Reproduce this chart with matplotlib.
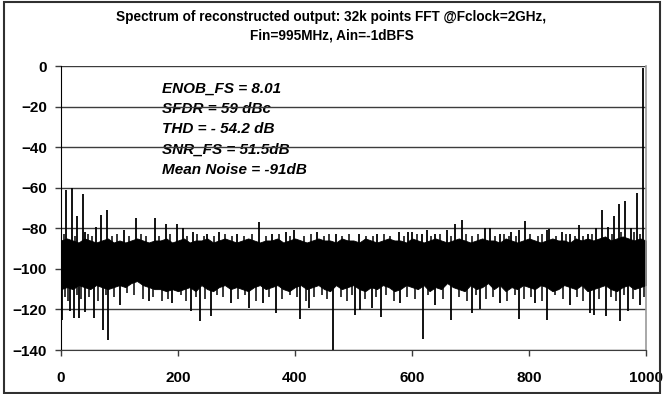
import numpy as np
import matplotlib
matplotlib.use("Agg")
import matplotlib.pyplot as plt
from matplotlib.patches import Rectangle

plt.rcParams["font.family"] = ["Liberation Sans", "DejaVu Sans"]
plt.rcParams["font.weight"] = "bold"

env_freq = list(range(0, 1001, 10))
env_top = [-86, -85, -86, -87, -85, -86, -87, -86, -85, -87,
           -86, -87, -86, -85, -86, -87, -86, -86, -85, -87,
           -86, -85, -87, -86, -86, -85, -87, -86, -85, -86,
           -87, -86, -85, -86, -87, -86, -86, -85, -87, -86,
           -85, -86, -87, -86, -85, -86, -86, -87, -85, -86,
           -86, -87, -85, -86, -87, -86, -85, -86, -86, -87,
           -85, -86, -87, -86, -85, -86, -87, -86, -85, -86,
           -87, -86, -85, -86, -86, -87, -85, -86, -87, -86,
           -85, -86, -87, -86, -85, -86, -86, -87, -85, -86,
           -85, -86, -85, -84, -86, -85, -84, -85, -86, -85, -86]
env_bot = [-110, -109, -110, -108, -109, -110, -108, -109, -110, -109,
           -108, -109, -107, -106, -108, -109, -110, -110, -111, -110,
           -111, -110, -109, -111, -108, -110, -111, -109, -108, -110,
           -109, -110, -111, -109, -108, -110, -109, -108, -110, -111,
           -109, -108, -110, -109, -108, -110, -111, -108, -110, -109,
           -108, -110, -111, -109, -110, -108, -109, -111, -110, -108,
           -109, -110, -108, -111, -109, -110, -107, -109, -110, -111,
           -108, -110, -109, -107, -110, -108, -111, -109, -110, -108,
           -109, -110, -108, -109, -111, -110, -108, -109, -110, -108,
           -111, -110, -109, -108, -110, -111, -109, -108, -110, -109, -108]

# spurs and the fundamental rising above the floor
spur_freq = [9, 18, 28, 38, 41, 59, 69, 79, 108, 129, 160, 179, 199, 208,
             225, 250, 270, 300, 339, 360, 385, 399, 438, 470, 510, 540,
             577, 593, 600, 617, 625, 640, 659, 674, 685, 725, 733, 750,
             770, 783, 794, 830, 835, 857, 870, 885, 900, 915, 924, 935,
             945, 954, 964, 974, 984, 995]
spur_level = [-61, -60, -74, -63, -82, -79.5, -73.5, -71, -81, -75, -75,
              -78, -78, -80, -82, -83, -82, -83, -77, -83, -82, -81, -82,
              -83, -83, -83, -82, -82, -82, -83, -81, -83, -81, -78, -76,
              -80, -80, -83, -82, -81, -76.5, -81, -80.5, -82, -83, -78.5,
              -83, -80, -71, -79.5, -74, -68, -66.5, -80, -62.5, -1]

# smaller bumps along the top of the floor
bump_freq = [5, 24, 47, 53, 88, 95, 117, 136, 145, 168, 187, 215, 233, 244,
             262, 281, 293, 312, 326, 351, 372, 392, 415, 427, 449, 458,
             481, 493, 521, 533, 552, 563, 586, 609, 632, 648, 667, 692,
             703, 712, 742, 758, 766, 778, 802, 815, 822, 846, 863, 878,
             893, 907, 942, 958, 979, 989]
bump_level = [-83, -84, -83, -84, -84, -83, -84, -83, -84, -84, -83, -84,
              -83, -84, -84, -83, -84, -84, -83, -84, -83, -84, -84, -83,
              -84, -83, -84, -83, -84, -84, -83, -84, -84, -83, -84, -83,
              -84, -83, -84, -83, -84, -83, -84, -84, -83, -84, -83, -84,
              -83, -84, -84, -83, -83, -82, -82, -83]

# deep dips below the floor
dip_freq = [2, 16, 22, 31, 41, 57, 72, 81, 100, 150, 190, 222, 238, 256,
            290, 322, 345, 367, 409, 424, 465, 502, 511, 531, 547, 580,
            619, 640, 666, 702, 717, 750, 783, 810, 831, 870, 904, 911,
            932, 956, 969, 990]
dip_level = [-125, -121, -124, -124, -121.5, -124, -130, -135, -118, -116,
             -117, -121, -125.5, -123, -117, -119.5, -117, -122, -124.5,
             -119.5, -140, -122.5, -120.5, -119.5, -123.5, -117, -134.5,
             -118, -125, -122, -120, -117, -124.5, -117, -125, -118, -122,
             -122.5, -123, -125.5, -121, -118]

# shallower dips that make the ragged lower edge
sag_freq = [7, 12, 27, 35, 48, 64, 77, 90, 112, 125, 140, 158, 172, 183,
            205, 214, 230, 247, 266, 277, 302, 315, 333, 356, 378, 392,
            403, 418, 433, 446, 455, 478, 489, 497, 520, 538, 556, 569,
            592, 605, 628, 653, 680, 694, 710, 727, 738, 763, 776, 792,
            803, 823, 845, 858, 882, 893, 920, 941, 948, 963, 978, 996]
sag_level = [-114, -116, -113, -115, -114, -116, -113, -114, -112, -113,
             -115, -114, -116, -115, -113, -116, -114, -115, -113, -114,
             -115, -113, -116, -114, -115, -113, -114, -116, -114, -113,
             -115, -114, -116, -113, -115, -114, -113, -116, -114, -115,
             -113, -115, -114, -116, -113, -115, -114, -116, -113, -115,
             -114, -116, -113, -115, -114, -116, -115, -114, -116, -113,
             -115, -114]

stats_text = ["ENOB_FS = 8.01", "SFDR = 59 dBc", "THD = - 54.2 dB",
              "SNR_FS = 51.5dB", "Mean Noise = -91dB"]
stats_y = [-11, -21, -31, -41.5, -51.5]

fig = plt.figure(figsize=(6.63, 3.94), dpi=100)
ax = fig.add_axes([61 / 663, 44 / 394, 585 / 663, 284 / 394])

# horizontal gridlines
for y in range(-140, 1, 20):
    ax.axhline(y, color="#3c3c3c", lw=1.0, zorder=1.5)

ax.fill_between(env_freq, env_bot, env_top, color="black", lw=0.6,
                edgecolor="black", zorder=2)
ax.vlines(spur_freq, -95, spur_level, color="black", lw=1.3, zorder=2)
ax.vlines(bump_freq, -95, bump_level, color="black", lw=1.1, zorder=2)
ax.vlines(dip_freq, -100, dip_level, color="black", lw=1.3, zorder=2)
ax.vlines(sag_freq, -100, sag_level, color="black", lw=1.1, zorder=2)

for s, y in zip(stats_text, stats_y):
    ax.text(172, y, s, fontsize=11, fontweight="bold", style="italic",
            va="center", ha="left", zorder=1)

ax.set_xlim(0, 1000)
ax.set_ylim(-140, 0)
ax.set_xticks(range(0, 1001, 200))
ax.set_yticks(range(-140, 1, 20))
ax.tick_params(axis="both", labelsize=11, length=4, width=1, color="#3c3c3c",
               direction="out")
ax.tick_params(axis="y", pad=6)
ax.tick_params(axis="x", pad=11)
for lab in ax.get_xticklabels() + ax.get_yticklabels():
    lab.set_fontweight("bold")

ax.spines["top"].set_visible(False)
ax.spines["left"].set_color("black")
ax.spines["bottom"].set_color("#3c3c3c")
ax.spines["right"].set_color("#9a9a9a")
ax.spines["right"].set_linewidth(1.2)

fig.text(0.5, 1 - 17 / 394, "Spectrum of reconstructed output: 32k points FFT @Fclock=2GHz,",
         ha="center", va="center", fontsize=9.8, fontweight="bold")
fig.text(0.5, 1 - 35 / 394, "Fin=995MHz, Ain=-1dBFS",
         ha="center", va="center", fontsize=9.8, fontweight="bold")

# outer chart border
fig.add_artist(Rectangle((4 / 663, 1 / 394), 656 / 663, 391 / 394,
                         transform=fig.transFigure, fill=False,
                         edgecolor="#303030", lw=1.5))

fig.savefig("out.png", dpi=100)
